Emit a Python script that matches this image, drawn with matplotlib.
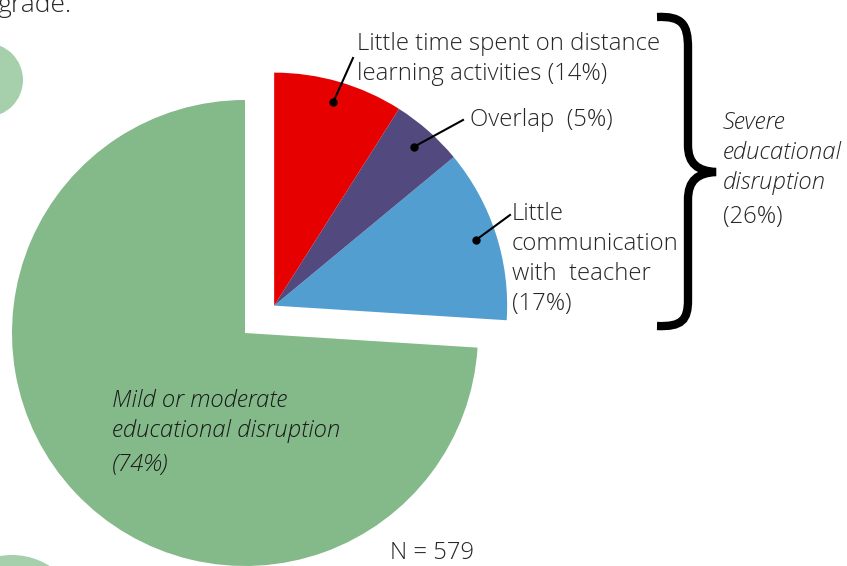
import numpy as np
import matplotlib.pyplot as plt
from matplotlib.patches import Circle, PathPatch
from matplotlib.path import Path

plt.rcParams['font.family'] = ['Open Sans', 'DejaVu Sans']

# slices, counterclockwise from 12 o'clock
names = ['Mild or moderate', 'Little communication', 'Overlap', 'Little time']
values = [74, 12, 5, 9]
colors = ['#84b98a', '#539ed0', '#524a7e', '#e60000']

W, H = 847, 566
def Y(p):
    return H - p

fig = plt.figure(figsize=(W / 100, H / 100), dpi=100)
ax = fig.add_axes([0, 0, 1, 1])

R = 233
c0 = (245, Y(333))
wedges, _ = ax.pie(values, colors=colors, startangle=90, counterclock=True,
                   radius=R, center=c0, wedgeprops=dict(linewidth=0))

# pull the "severe" group out along its mid angle
sev_mid = np.deg2rad((wedges[1].theta1 + wedges[3].theta2) / 2)
off = 40
c1 = (c0[0] + off * np.cos(sev_mid), c0[1] + off * np.sin(sev_mid))
for w in wedges[1:]:
    w.set_center(c1)

ax.set_xlim(0, W)
ax.set_ylim(0, H)
ax.set_aspect('equal')
ax.axis('off')

# decorative circles at left edge
ax.add_patch(Circle((-14, Y(80)), 37, color='#a6cfab', lw=0))
ax.add_patch(Circle((12, Y(625)), 70, color='#a6cfab', lw=0))

txt = '#262626'
fs = 17.2
fw = 'light'

def leader(w, end, rf=0.91):
    a = np.deg2rad((w.theta1 + w.theta2) / 2)
    x = c1[0] + rf * R * np.cos(a)
    y = c1[1] + rf * R * np.sin(a)
    ax.plot([x, end[0]], [y, Y(end[1])], color='black', lw=1.5)
    ax.plot(x, y, 'o', color='black', ms=5)

leader(wedges[3], (353, 58))
leader(wedges[2], (463, 120))
leader(wedges[1], (510, 215))

ax.text(357, Y(59), 'Little time spent on distance\nlearning activities (14%)',
        fontsize=fs, color=txt, va='center', ha='left', linespacing=1.32,
        fontweight=fw)
ax.text(470, Y(120), 'Overlap  (5%)', fontsize=fs, color=txt, va='center',
        fontweight=fw)
ax.text(512, Y(259), 'Little\ncommunication\nwith  teacher\n(17%)',
        fontsize=fs, color=txt, va='center', linespacing=1.32, fontweight=fw)
ax.text(723, Y(153), 'Severe\neducational\ndisruption', fontsize=fs,
        color=txt, va='center', style='italic', linespacing=1.35, fontweight=fw)
ax.text(723, Y(217), '(26%)', fontsize=fs, color=txt, va='center',
        fontweight=fw)
ax.text(112, Y(416), 'Mild or moderate\neducational disruption', fontsize=fs,
        color='#1a1a1a', va='center', style='italic', linespacing=1.35,
        fontweight=fw)
ax.text(112, Y(465), '(74%)', fontsize=fs, color='#1a1a1a', va='center',
        style='italic', fontweight=fw)
ax.text(390, Y(553), 'N = 579', fontsize=fs, color=txt, va='center',
        fontweight=fw)
ax.text(-3, Y(12), 'grade.', fontsize=19, color=txt, va='baseline',
        fontweight=fw)

# curly brace
pts = [(657, 17), (682, 16), (688, 24), (688, 48),
       (688, 145), (688, 164), (698, 171), (716, 172),
       (698, 173), (688, 180), (688, 200),
       (688, 300), (688, 320), (682, 327), (657, 326)]
codes = [Path.MOVETO, Path.CURVE4, Path.CURVE4, Path.CURVE4,
         Path.LINETO, Path.CURVE4, Path.CURVE4, Path.CURVE4,
         Path.CURVE4, Path.CURVE4, Path.CURVE4,
         Path.LINETO, Path.CURVE4, Path.CURVE4, Path.CURVE4]
brace = Path([(x, Y(y)) for x, y in pts], codes)
ax.add_patch(PathPatch(brace, fill=False, lw=6, color='black', capstyle='butt'))

fig.savefig('out.png', dpi=100)
